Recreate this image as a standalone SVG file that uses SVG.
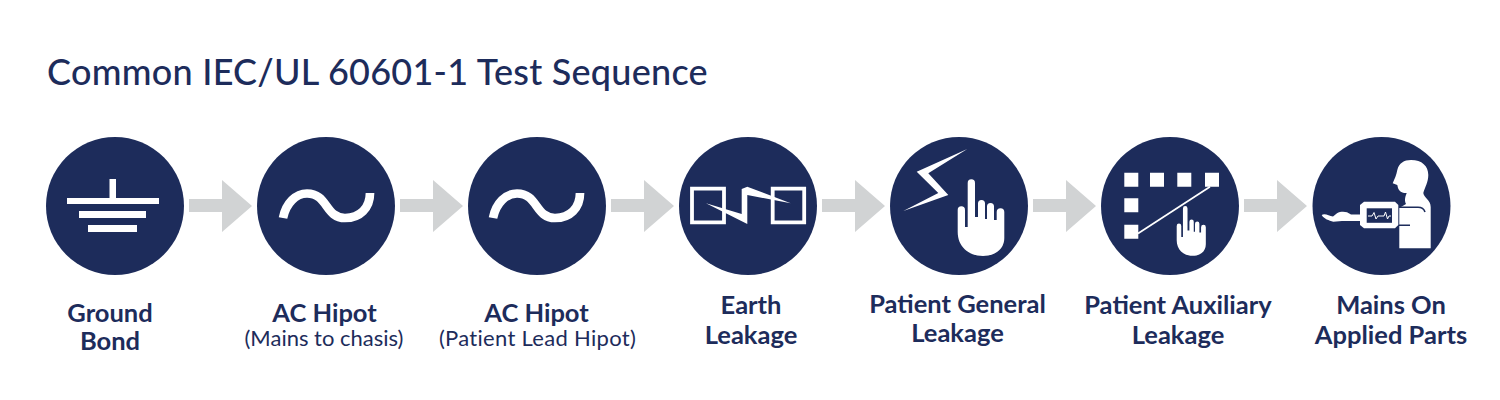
<svg xmlns="http://www.w3.org/2000/svg" width="1500" height="400" viewBox="0 0 1500 400">
<style>
text{font-family:Lato,"Open Sans",sans-serif;fill:#1d2c5b;text-anchor:middle}
.t{font-size:36px;text-anchor:start;font-weight:500;letter-spacing:.26px}
.b{font-size:25.5px;font-weight:700}
.s{font-size:22px}
.c{fill:#1d2c5b}
.w{fill:#fff}
.l{fill:none;stroke:#fff}
.a{fill:#d1d3d4}
</style>
<defs>
<path id="hand" d="M957.700 210a3.650 3.650 0 0 1 7.300 0V227H967.700V183a3.650 3.650 0 0 1 7.300 0V217H978V203.500a3.500 3.500 0 0 1 7 0V219H987V206.500a3.500 3.500 0 0 1 7 0V220H996.700V212a3.800 3.800 0 0 1 7.600 0V238C1004.300 250 994 256 983 256C968 256 957.700 246 957.700 232Z"/>
<path id="sine" d="M283 218C286 203 296 193.500 307 193.500C328 193.500 325 218 345 218C360 218 370 208 370 193" class="l" stroke-width="8.700"/>
</defs>
<rect width="1500" height="400" fill="#fff"/>
<text class="t" x="47" y="85">Common IEC/UL 60601-1 Test Sequence</text>
<g id="connectors" class="a">
<path d="M189 199H222V180L252 206L222 232V212H189Z"/>
<path d="M400 199H433V180L463 206L433 232V212H400Z"/>
<path d="M611 199H644V180L674 206L644 232V212H611Z"/>
<path d="M822 199H855V180L885 206L855 232V212H822Z"/>
<path d="M1033 199H1066V180L1096 206L1066 232V212H1033Z"/>
<path d="M1244 199H1277V180L1307 206L1277 232V212H1244Z"/>
</g>
<g id="ground-bond">
<circle class="c" cx="115" cy="206" r="69"/>
<path class="w" d="M109.500 179H116V198H159V204H67V198H109.500ZM79 211H146V218H79ZM88 225H137V232H88Z"/>
<text class="b" x="110" y="322">Ground</text><text class="b" x="110" y="350">Bond</text>
</g>
<g id="ac-hipot-1">
<circle class="c" cx="326" cy="206" r="69"/>
<use href="#sine"/>
<text class="b" x="324.500" y="322">AC Hipot</text><text class="s" x="324" y="346">(Mains to chasis)</text>
</g>
<g id="ac-hipot-2">
<circle class="c" cx="537" cy="206" r="69"/>
<use href="#sine" x="210"/>
<text class="b" x="536.500" y="322">AC Hipot</text><text class="s" x="537.500" y="346" style="letter-spacing:.3px">(Patient Lead Hipot)</text>
</g>
<g id="earth-leakage">
<circle class="c" cx="748" cy="206" r="69"/>
<path class="l" stroke-width="3.800" d="M692 188.700H724V222.400H692ZM772.700 188.700H804.200V222.400H772.700Z"/>
<path class="w" d="M706 203.300L741.700 214V189L747.300 186.700L790.700 203.300L747.300 195V224Z"/>
<text class="b" x="751" y="314">Earth</text><text class="b" x="751" y="344">Leakage</text>
</g>
<g id="patient-general">
<circle class="c" cx="959" cy="206" r="69"/>
<path class="w" d="M967.300 149L916.700 171.700L938.300 193L903.300 211L948.300 195L928.300 173.300Z"/>
<use href="#hand" class="w"/>
<text class="b" x="957.500" y="313">Patient General</text><text class="b" x="957.500" y="342">Leakage</text>
</g>
<g id="patient-auxiliary">
<circle class="c" cx="1170" cy="206" r="69"/>
<path class="w" d="M1124.300 172.700h14v14h-14zM1150 172.700h14v14h-14zM1177.300 172.700h14v14h-14zM1205 172.700h14v14h-14zM1124.300 198.300h14v14h-14zM1124.300 224.700h14v14h-14z"/>
<path class="l" stroke-width="1.700" d="M1138 233.500L1210 186.700"/>
<use href="#hand" class="w" transform="translate(1176.700 206) scale(.625 .65) translate(-957.700 -179.300)"/>
<text class="b" x="1178" y="314">Patient Auxiliary</text><text class="b" x="1178" y="344">Leakage</text>
</g>
<g id="mains-on">
<circle class="c" cx="1381.500" cy="206" r="69"/>
<path class="w" d="M1399.300 248.300V208L1406 204C1404 200 1405.500 196 1406.700 193C1403 193.500 1399 191.500 1398 188L1397.300 185L1392.700 183.300C1394.500 179 1396.500 175 1397.300 170C1399 163 1404 160 1411 160C1422 160 1428.300 166 1428.300 175C1428.300 182 1425 187 1423.300 193C1424 198 1430.700 200 1430.700 207V248.300Z"/>
<path fill="none" stroke="#1d2c5b" stroke-width="1.600" d="M1399 207.300H1418C1422 207.300 1424 209 1425 212M1399 225.200H1410"/>
<path class="w" d="M1321.700 215C1325 213 1329 216 1333 216.500L1337 213.300C1340 211.500 1344 211.500 1347 212.300L1351 214.500H1361V221H1342L1333.300 221.700C1329 220.500 1324 219 1321.700 215Z"/>
<path class="w" d="M1364 201.700H1395L1398.300 205V225L1395 228.300H1364L1360 225V205Z"/>
<rect x="1366.700" y="208.300" width="25.300" height="14.500" class="c"/>
<path d="M1368 216H1372L1374 212.500L1376 219L1378 216H1384L1385.500 212L1387.500 219L1389 216H1391" fill="none" stroke="#fff"/>
<text class="b" x="1391" y="314">Mains On</text><text class="b" x="1391" y="344">Applied Parts</text>
</g>
</svg>
